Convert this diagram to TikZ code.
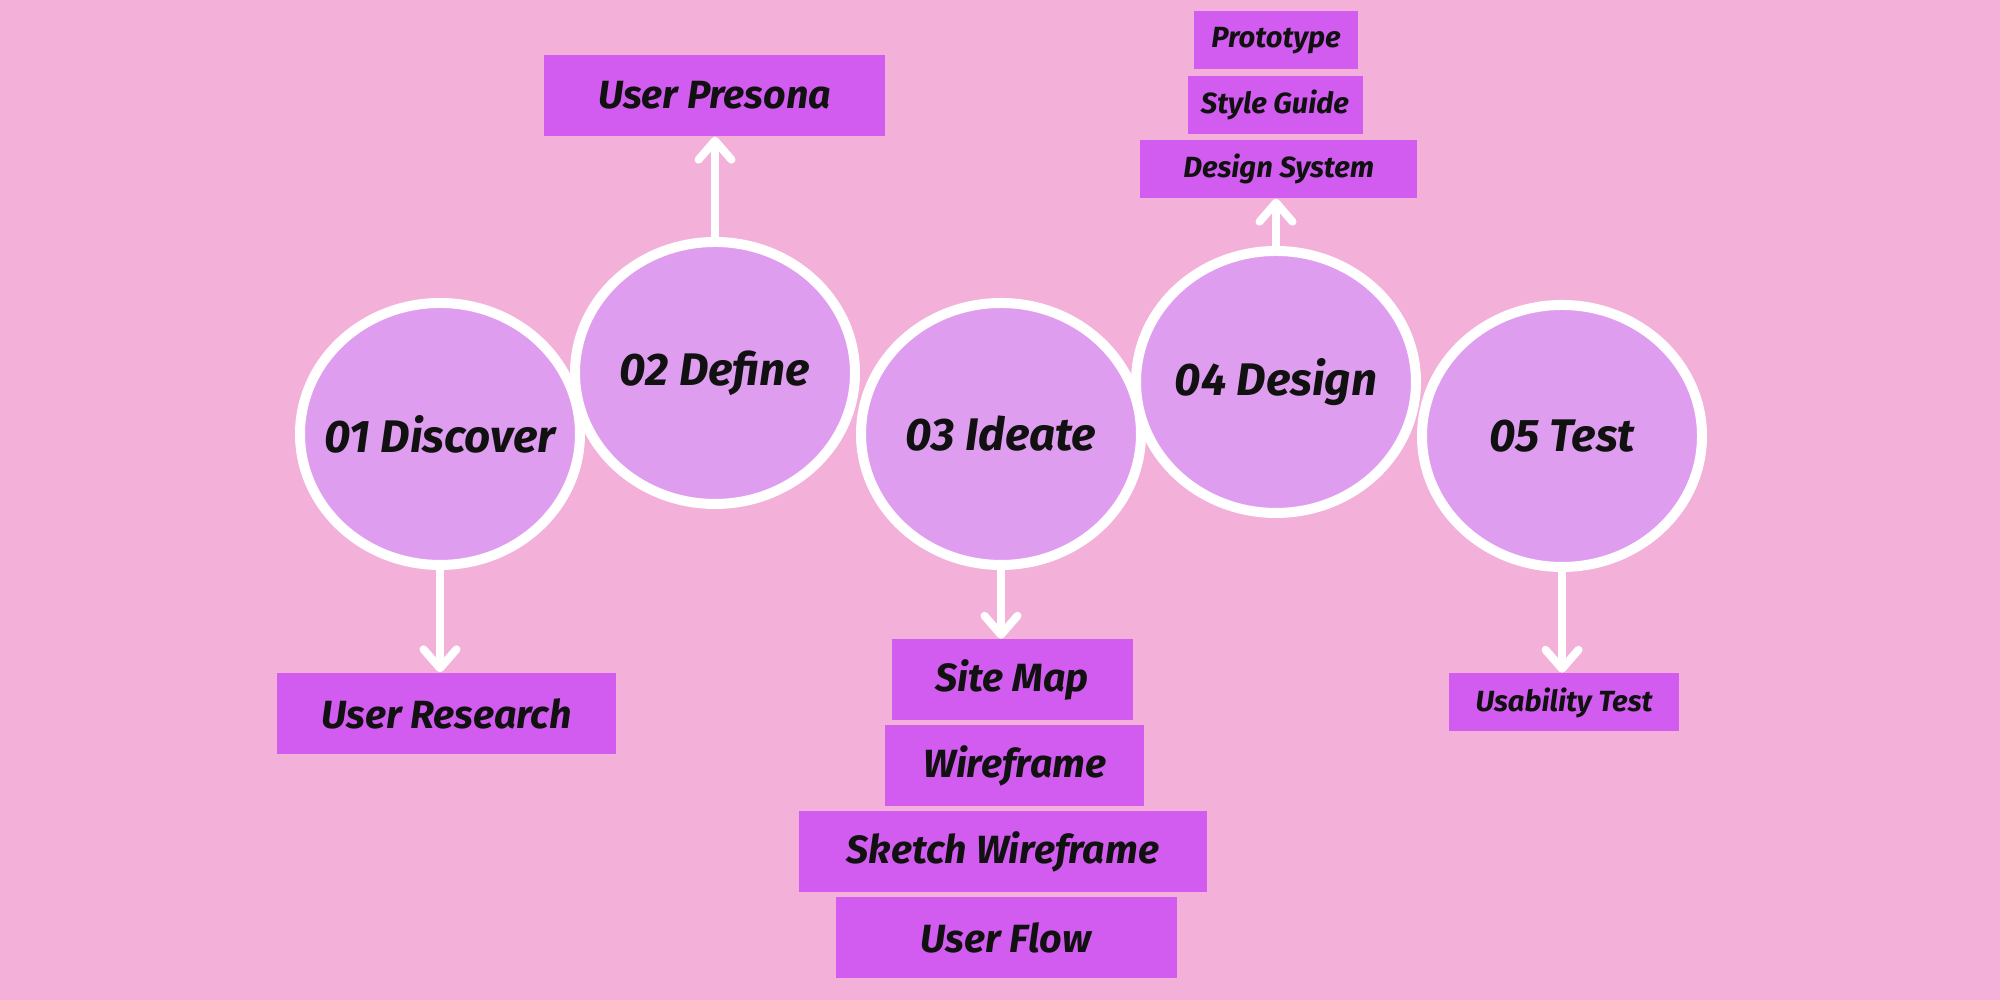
\documentclass[tikz,border=0pt]{standalone}
\usepackage{fontspec}
\setmainfont{Fira Sans}
\usepackage{tikz}
\usepackage{xcolor}
\usetikzlibrary{arrows.meta,shapes.geometric}
\definecolor{bgpink}{HTML}{F3B0D8}
\definecolor{stagefill}{HTML}{DF9DF0}
\definecolor{cardfill}{HTML}{D25BF0}
\definecolor{ink}{HTML}{111111}
\tikzset{
  stage/.style={ellipse,draw=white,fill=stagefill,line width=0.1cm,
                minimum width=2.8cm,minimum height=2.62cm,inner sep=0pt},
  stagetext/.style={text=ink,font=\fontsize{13}{15}\selectfont\bfseries\itshape},
  bigcard/.style={rectangle,fill=cardfill,minimum height=0.81cm,inner sep=0pt,
                  text=ink,font=\fontsize{11.2}{13}\selectfont\bfseries\itshape},
  smallcard/.style={rectangle,fill=cardfill,minimum height=0.58cm,inner sep=0pt,
                    text=ink,font=\fontsize{8.3}{10}\selectfont\bfseries\itshape},
  whitearr/.style={-{Straight Barb[length=1.9mm,width=3.3mm,round]},
                   draw=white,line width=0.08cm,line cap=round}
}
\begin{document}
\begin{tikzpicture}[x=1cm,y=1cm]
  \fill[bgpink] (0,0) rectangle (20,10);
  \useasboundingbox (0,0) rectangle (20,10);
  % stages
  \node[stage,label={[stagetext]center:01 Discover}] (discover) at (4.40,5.66) {};
  \node[stage,label={[stagetext]center:02 Define}]   (define)   at (7.15,6.27) {};
  \node[stage,label={[stagetext]center:03 Ideate}]   (ideate)   at (10.01,5.66) {};
  \node[stage,label={[stagetext]center:04 Design}]   (design)   at (12.76,6.18) {};
  \node[stage,label={[stagetext]center:05 Test}]     (test)     at (15.62,5.64) {};
  % outputs
  \node[bigcard,minimum width=3.41cm] (persona)  at (7.145,9.045) {User Presona};
  \node[bigcard,minimum width=3.39cm] (research) at (4.465,2.865) {User Research};
  \node[bigcard,minimum width=2.41cm] (sitemap)  at (10.12,3.20) {Site Map};
  \node[bigcard,minimum width=2.59cm] (wire)     at (10.147,2.34) {Wireframe};
  \node[bigcard,minimum width=4.08cm] (sketch)   at (10.03,1.48) {Sketch Wireframe};
  \node[bigcard,minimum width=3.41cm] (flow)     at (10.06,0.62) {User Flow};
  \node[smallcard,minimum width=1.64cm] (proto)  at (12.76,9.595) {Prototype};
  \node[smallcard,minimum width=1.75cm] (guide)  at (12.75,8.953) {Style Guide};
  \node[smallcard,minimum width=2.77cm] (dsys)   at (12.787,8.31) {Design System};
  \node[smallcard,minimum width=2.30cm] (usab)   at (15.64,2.975) {Usability Test};
  % arrows
  \draw[whitearr] (discover.south) -- (discover.south |- research.north);
  \draw[whitearr] (define.north) -- (define.north |- persona.south);
  \draw[whitearr] (ideate.south) -- (ideate.south |- sitemap.north);
  \draw[whitearr] (design.north) -- (design.north |- dsys.south);
  \draw[whitearr] (test.south) -- (test.south |- usab.north);
\end{tikzpicture}
\end{document}
